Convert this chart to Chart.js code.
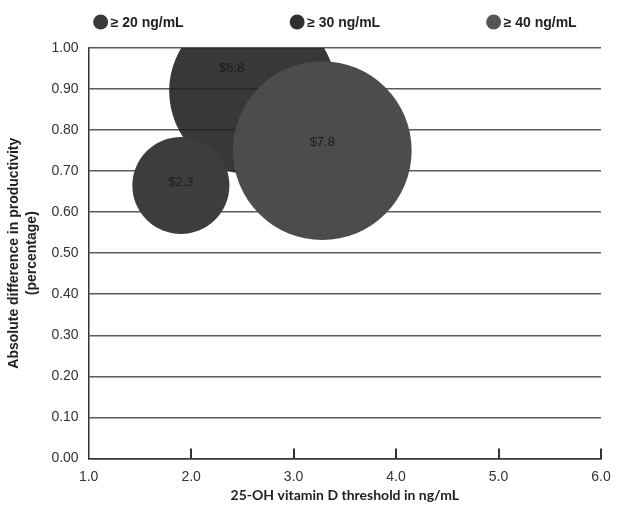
<!DOCTYPE html>
<html>
<head>
<meta charset="utf-8">
<script src="https://cdn.jsdelivr.net/npm/chart.js@4.4.1/dist/chart.umd.min.js"></script>
<style>
    body { margin: 0; background: #fff; }
    #wrap { width: 629px; height: 510px; }
</style>
</head>
<body>
<div id="wrap"><canvas id="bubbleChart"></canvas></div>
<script>
// Vitamin D thresholds, one bubble each
const thresholds = ["≥ 20 ng/mL", "≥ 30 ng/mL", "≥ 40 ng/mL"];
const thresholdX = [1.9, 2.6, 3.28];
const productivityDiff = [0.665, 0.895, 0.75];
const costs = [2.3, 6.8, 7.8];
const xTicks = [1, 2, 3, 4, 5, 6];

const bubbleColors = ["#3d3d3d", "rgba(34,34,34,0.9)", "#4c4c4c"];
const legendColors = ["#3a3a3a", "#303030", "#555555"];
const drawOrder = [1, 3, 2];
const labelShift = [[0, -3], [-21, -23], [0, -8]];

const axisFont = "'Liberation Sans', Arial, sans-serif";

// Dollar labels inside the bubbles
const bubbleLabels = {
    id: "bubbleLabels",
    afterDatasetsDraw(chart) {
        const ctx = chart.ctx;
        ctx.save();
        ctx.font = "13px " + axisFont;
        ctx.fillStyle = "#1c1c1c";
        ctx.textAlign = "center";
        ctx.textBaseline = "middle";
        chart.data.datasets.forEach((ds, i) => {
            const pt = chart.getDatasetMeta(i).data[0];
            ctx.fillText("$" + costs[i].toFixed(1), pt.x + labelShift[i][0], pt.y + labelShift[i][1]);
        });
        ctx.restore();
    }
};

// Tick marks pointing up into the plot
const innerTicks = {
    id: "innerTicks",
    afterDraw(chart) {
        const ctx = chart.ctx;
        const xs = chart.scales.x;
        const base = chart.chartArea.bottom;
        ctx.save();
        ctx.strokeStyle = "#333";
        ctx.lineWidth = 2;
        xticksLoop:
        for (const v of xTicks) {
            if (v === xs.min) continue xticksLoop;
            const px = Math.round(xs.getPixelForValue(v));
            ctx.beginPath();
            ctx.moveTo(px, base);
            ctx.lineTo(px, base - 10);
            ctx.stroke();
        }
        ctx.restore();
    }
};

// Wide-spaced legend row above the plot (built-in legend wraps at this spacing)
const spreadLegend = {
    id: "spreadLegend",
    afterDraw(chart) {
        const ctx = chart.ctx;
        const step = 196.5;
        const y = 22;
        ctx.save();
        ctx.font = "bold 14px " + axisFont;
        ctx.textBaseline = "middle";
        ctx.textAlign = "left";
        chart.data.datasets.forEach((ds, i) => {
            const cx = chart.chartArea.left + 12 + i * step;
            ctx.fillStyle = legendColors[i];
            ctx.beginPath();
            ctx.arc(cx, y, 7.5, 0, Math.PI * 2);
            ctx.fill();
            ctx.fillStyle = "#222";
            ctx.fillText(ds.label, cx + 10, y + 1);
        });
        ctx.restore();
    }
};

new Chart(document.getElementById("bubbleChart"), {
    type: "bubble",
    data: {
        datasets: thresholds.map((name, i) => ({
            label: name,
            data: [{ x: thresholdX[i], y: productivityDiff[i], r: 32 * Math.sqrt(costs[i]) }],
            backgroundColor: bubbleColors[i],
            borderWidth: 0,
            order: drawOrder[i],
            clip: 0
        }))
    },
    options: {
        responsive: true,
        maintainAspectRatio: false,
        animation: false,
        events: [],
        layout: { autoPadding: false, padding: { top: 48, right: 28, bottom: 6, left: 3 } },
        plugins: {
            tooltip: { enabled: false },
            legend: { display: false }
        },
        scales: {
            x: {
                type: "linear",
                min: 1,
                max: 6,
                afterBuildTicks: axis => { axis.ticks = xTicks.map(v => ({ value: v })); },
                ticks: {
                    padding: 2,
                    color: "#333",
                    font: { family: axisFont, size: 14 },
                    callback: v => v.toFixed(1)
                },
                grid: { display: false },
                border: { display: true, color: "#333", width: 1.5 },
                title: {
                    display: true,
                    text: "25-OH vitamin D threshold in ng/mL",
                    color: "#222",
                    font: { family: "Lato, 'Open Sans', sans-serif", size: 14, weight: "bold" },
                    padding: { top: 0, bottom: 0 }
                }
            },
            y: {
                min: 0,
                max: 1,
                ticks: {
                    stepSize: 0.1,
                    padding: 10,
                    color: "#333",
                    font: { family: axisFont, size: 14 },
                    callback: v => v.toFixed(2)
                },
                grid: { color: "#5a5a5a", lineWidth: 1.5, drawTicks: false },
                border: { display: true, color: "#333", width: 1.5 },
                title: {
                    display: true,
                    text: ["Absolute difference in productivity", "(percentage)"],
                    color: "#222",
                    font: { family: axisFont, size: 14, weight: "bold", lineHeight: 1.3 },
                    padding: { top: 2, bottom: 0 }
                }
            }
        }
    },
    plugins: [bubbleLabels, innerTicks, spreadLegend]
});
</script>
</body>
</html>
